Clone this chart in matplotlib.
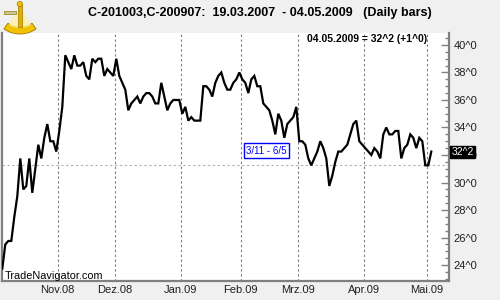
import matplotlib
matplotlib.use("Agg")
import matplotlib.pyplot as plt
from matplotlib.ticker import MultipleLocator, FixedLocator, FuncFormatter
from matplotlib.patches import Wedge, Rectangle, Circle
import pandas as pd
import numpy as np

# ---------------- data ----------------
title = "C-201003,C-200907:  19.03.2007  - 04.05.2009   (Daily bars)"
start_date = "2008-10-07"
end_date = "2009-05-04"
holidays = ["2008-11-27", "2008-12-25", "2009-01-01", "2009-01-19",
            "2009-02-16", "2009-04-10"]

oct_vals = [23.75, 25.5, 25.75, 25.75, 27.5, 29.0, 31.75, 29.5, 29.75, 31.75,
            29.25, 31.0, 32.75, 31.75, 33.25, 34.25, 33.0, 33.0, 32.25]
nov_vals = [33.75, 35.5, 39.25, 38.75, 38.25, 39.25, 38.5, 38.5, 38.75, 37.75,
            37.5, 39.0, 38.75, 39.0, 39.0, 37.75, 38.25, 38.0, 37.75]
dec_vals = [39.0, 37.75, 37.25, 36.75, 35.25, 35.75, 36.0, 36.25, 35.75, 36.25,
            36.5, 36.5, 36.25, 35.75, 35.75, 37.25, 36.25, 35.25, 35.75, 36.0,
            36.0, 36.0]
jan_vals = [35.0, 35.5, 34.5, 34.75, 34.5, 34.5, 34.5, 37.0, 37.0, 36.75,
            36.25, 37.25, 37.75, 38.0, 37.25, 36.75, 36.75, 37.25, 37.5, 38.0]
feb_vals = [37.5, 37.25, 36.5, 37.5, 37.75, 37.0, 37.0, 35.75, 35.5, 35.25,
            34.5, 33.5, 35.0, 34.5, 33.25, 34.25, 34.5, 34.75, 35.5]
mar_vals = [33.0, 33.0, 32.75, 31.75, 31.25, 31.75, 32.25, 33.0, 32.5, 31.75,
            29.75, 30.5, 31.5, 32.25, 32.25, 32.5, 32.75, 33.5, 34.25, 34.5,
            33.0, 32.75]
apr_vals = [32.5, 32.25, 32.0, 32.5, 32.25, 31.75, 33.5, 34.0, 33.5, 33.5,
            33.75, 33.75, 31.75, 32.5, 32.75, 33.5, 33.25, 32.5, 33.25, 33.0,
            31.25]
may_vals = [31.25, 32.25]

month_names = {11: "Nov", 12: "Dez", 1: "Jan", 2: "Feb", 3: "Mrz", 4: "Apr", 5: "Mai"}
y_tick_values = [24, 26, 28, 30, 32, 34, 36, 38, 40]
range_label = "3/11 - 6/5"
watermark = "TradeNavigator.com"

# ---------------- prep ----------------
values = oct_vals + nov_vals + dec_vals + jan_vals + feb_vals + mar_vals + apr_vals + may_vals
days = pd.bdate_range(start_date, end_date, freq="C", holidays=holidays)
n = min(len(days), len(values))
days = days[:n]
values = values[:n]
x = np.arange(n)

def fmt_price(v):
    whole = int(np.floor(v + 1e-9))
    eighths = int(round((v - whole) * 8))
    return f"{whole}^{eighths}"

month_pos, month_lab = [], []
for i in range(1, n):
    if days[i].month != days[i - 1].month:
        month_pos.append(i - 0.5)
        month_lab.append(f"{month_names[days[i].month]}.{days[i].strftime('%y')}")

last = values[-1]
prev = values[-2]
chg = last - prev

# ---------------- figure ----------------
font = "Liberation Sans"
plt.rcParams["font.family"] = [font, "DejaVu Sans"]

fig = plt.figure(figsize=(5, 3), dpi=100, facecolor="#f0f0f0")
ax = fig.add_axes([2 / 500, 19 / 300, 447 / 500, 248 / 300])
ax.set_facecolor("white")

for p in month_pos:
    ax.axvline(p, color="#808080", lw=0.8, linestyle=(0, (2.2, 2.2)), zorder=1)
ax.axhline(prev, color="#b4b4b4", lw=0.8, linestyle=(0, (2.2, 2.2)), zorder=1)

ax.plot(x, values, color="black", lw=1.6, zorder=3, solid_joinstyle="miter")

ax.set_xlim(-0.1, 148.9)
ax.set_ylim(22.84, 40.87)

for s in ["left", "bottom", "right"]:
    ax.spines[s].set_color("#808080")
    ax.spines[s].set_linewidth(1.6)
ax.spines["top"].set_visible(False)

ax.yaxis.tick_right()
ax.yaxis.set_major_locator(FixedLocator(y_tick_values))
ax.yaxis.set_minor_locator(MultipleLocator(0.5))
ax.yaxis.set_major_formatter(FuncFormatter(lambda v, p: fmt_price(v)))
ax.tick_params(axis="y", which="major", direction="in", length=6, width=1,
               color="#808080", pad=3.5, labelsize=8, labelcolor="#202020")
ax.tick_params(axis="y", which="minor", direction="in", length=3, width=1,
               color="#808080")

ax.xaxis.set_major_locator(FixedLocator(month_pos))
ax.set_xticklabels(month_lab)
ax.tick_params(axis="x", which="both", length=0, pad=3, labelsize=8,
               labelcolor="#202020")

ax.text(0.007, 0.022, watermark, transform=ax.transAxes, ha="left", va="center",
        fontsize=7.8, color="black", zorder=4)

ax.text(0.5917, 0.525, range_label, transform=ax.transAxes, ha="center",
        va="center", fontsize=7, color="#0000ff", zorder=5,
        bbox=dict(boxstyle="square,pad=0.25", facecolor="white",
                  edgecolor="#0000ff", linewidth=1))

ax.text(0.8166, 0.976, f"{days[-1].strftime('%d.%m.%Y')} = {fmt_price(last)} (+{fmt_price(chg)})",
        transform=ax.transAxes, ha="center", va="center", fontsize=7.5,
        fontweight="bold", color="black", zorder=5)

ax.annotate(fmt_price(last), xy=(1, last), xycoords=("axes fraction", "data"),
            xytext=(1.8, 0), textcoords="offset points", ha="left", va="center",
            fontsize=7.5, color="white", annotation_clip=False, zorder=6,
            bbox=dict(boxstyle="square,pad=0.1", facecolor="black",
                      edgecolor="black"))

fig.text(0.52, 0.958, title, ha="center", va="center", fontsize=9,
         fontweight="bold", color="black")

# small logo (decorative)
lg = fig.add_axes([0, 1 - 36 / 300, 40 / 500, 36 / 300])
lg.set_xlim(0, 40)
lg.set_ylim(36, 0)
lg.axis("off")
lg.add_patch(Wedge((20, 6), 28, 55, 125, width=7, facecolor="#f2c200",
                   edgecolor="#a07800", lw=0.6))
lg.add_patch(Wedge((20, 6), 22, 60, 120, facecolor="#fff2a0", edgecolor="none",
                   alpha=0.8))
lg.add_patch(Rectangle((18, 3), 3.5, 24, facecolor="#e0b000", edgecolor="#a07800", lw=0.5))
lg.add_patch(Rectangle((4, 10.5), 12, 3.5, facecolor="#c8c8a0", edgecolor="#a07800", lw=0.5))
lg.add_patch(Circle((19.8, 4), 2.6, facecolor="#f2c200", edgecolor="#a07800", lw=0.5))

fig.savefig("out.png", dpi=100, facecolor=fig.get_facecolor())
